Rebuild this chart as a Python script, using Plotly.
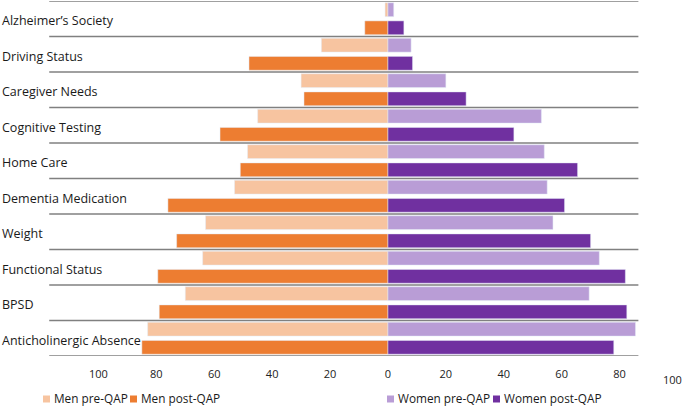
import plotly.graph_objects as go

categories = ["Alzheimer’s Society", "Driving Status", "Caregiver Needs", "Cognitive Testing",
              "Home Care", "Dementia Medication", "Weight", "Functional Status", "BPSD",
              "Anticholinergic Absence"]
men_pre = [1, 23, 30, 45, 48.5, 53, 63, 64, 70, 83]
men_post = [8, 48, 29, 58, 51, 76, 73, 79.5, 79, 85]
women_pre = [2, 8, 20, 53, 54, 55, 57, 73, 69.5, 85.5]
women_post = [5.5, 8.5, 27, 43.5, 65.5, 61, 70, 82, 82.5, 78]
tick_vals = [-100, -80, -60, -40, -20, 0, 20, 40, 60, 80]
tick_text = ["100", "80", "60", "40", "20", "0", "20", "40", "60", "80"]
edge_tick_text = "100"   # right-most tick label, kept inside the page edge
series_names = ["Men pre-QAP", "Men post-QAP", "Women pre-QAP", "Women post-QAP"]

C_MPRE = "#F7C4A0"
C_MPOST = "#ED7D31"
C_WPRE = "#B99DD6"
C_WPOST = "#7030A0"
colors = [C_MPRE, C_MPOST, C_WPRE, C_WPOST]

FW, FH = 685, 406
ML, MR, MT, MB = 0, 0, 1, 50
PH = FH - MT - MB


def px_x(p):
    return (p - ML) / (FW - ML - MR)


def px_y(p):
    return (FH - MB - p) / PH


ypos = list(range(len(categories)))
W = 0.39

fig = go.Figure()
vals = [[-v for v in men_pre], [-v for v in men_post], women_pre, women_post]
offsets = [-0.45, 0.06, -0.45, 0.06]
for name, col, xv, off in zip(series_names, colors, vals, offsets):
    fig.add_trace(go.Bar(y=ypos, x=xv, orientation="h", name=name, marker_color=col,
                         width=W, offset=off, showlegend=False))

# separator lines
for k in range(-1, len(categories)):
    fig.add_shape(type="line", xref="x", yref="y", x0=-117, x1=86.5, y0=k + 0.5, y1=k + 0.5,
                  line=dict(color="#808080", width=1.4), layer="above")

for i, c in enumerate(categories):
    fig.add_annotation(xref="paper", yref="y", x=0, y=i, text=c, showarrow=False,
                       xanchor="left", yanchor="middle", yshift=-2,
                       font=dict(family="Open Sans", size=12.5, color="#1a1a1a"))

# right-edge tick label
fig.add_annotation(xref="paper", yref="paper", x=1, y=px_y(380), text=edge_tick_text,
                   showarrow=False, xanchor="right", yanchor="middle", xshift=-1,
                   font=dict(family="Open Sans", size=11, color="#222"))

# legend (square swatch + label)
legend_sq_px = [43, 130, 387, 493]
leg_y = 398
for name, col, sx in zip(series_names, colors, legend_sq_px):
    fig.add_shape(type="rect", xref="paper", yref="paper",
                  x0=px_x(sx), x1=px_x(sx + 7), y0=px_y(leg_y - 2.5), y1=px_y(leg_y + 4.5),
                  fillcolor=col, line=dict(width=0))
    fig.add_annotation(xref="paper", yref="paper", x=px_x(sx + 9), y=px_y(leg_y), text=name,
                       showarrow=False, xanchor="left", yanchor="middle",
                       font=dict(family="Open Sans", size=11.8, color="#1a1a1a"))

fig.update_layout(
    width=FW, height=FH,
    margin=dict(l=ML, r=MR, t=MT, b=MB, autoexpand=False),
    plot_bgcolor="white", paper_bgcolor="white",
    barmode="overlay",
    showlegend=False,
    font=dict(family="Open Sans", size=11, color="#222"),
    xaxis=dict(range=[-134.0, 102.6], tickvals=tick_vals, ticktext=tick_text,
               showgrid=False, zeroline=False, showline=False, automargin=False,
               ticks="outside", ticklen=8, tickcolor="rgba(0,0,0,0)",
               tickfont=dict(family="Open Sans", size=11, color="#222")),
    yaxis=dict(range=[9.5, -0.5], showticklabels=False, showgrid=False, zeroline=False,
               showline=False, automargin=False),
)

fig.write_html("out.html", config={"displayModeBar": False},
               post_script="document.body.style.margin='0';")
